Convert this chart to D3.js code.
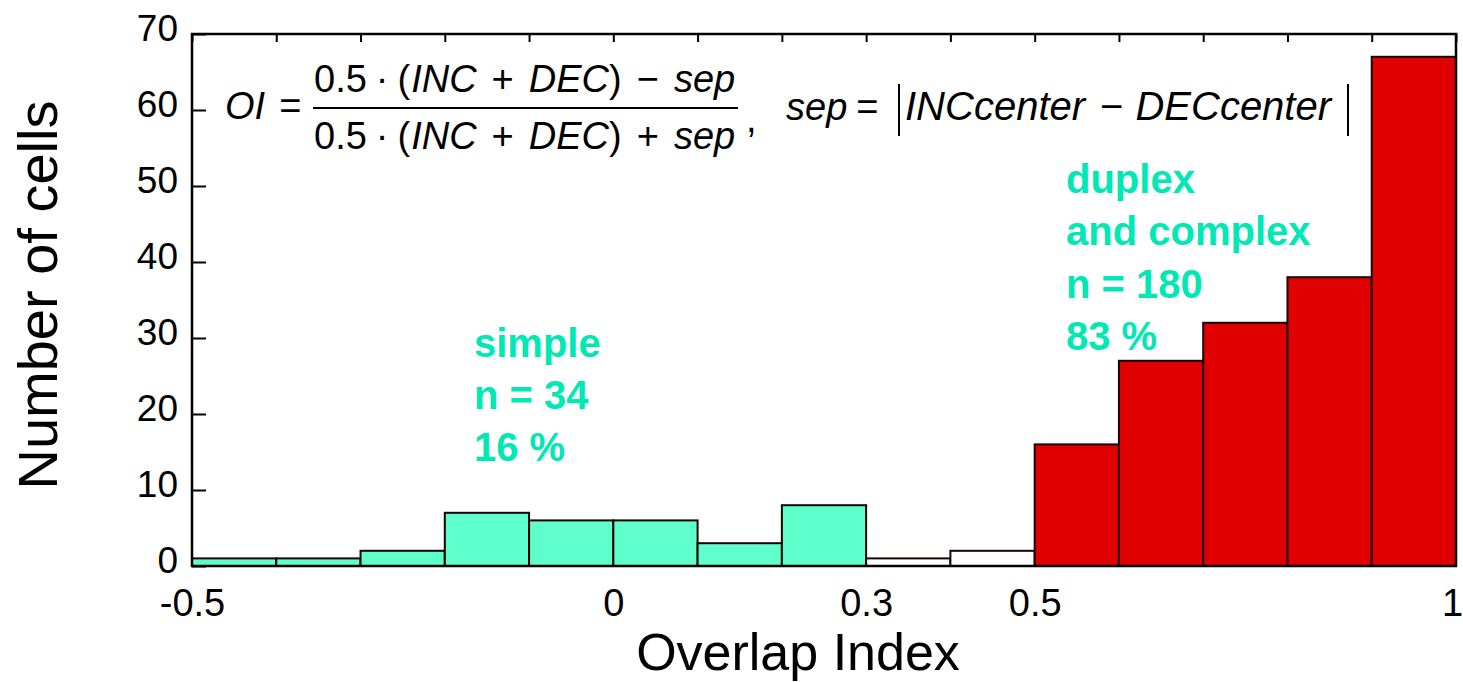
<!DOCTYPE html>
<html>
<head>
<meta charset="utf-8">
<script src="https://cdn.jsdelivr.net/npm/d3@7"></script>
<style>
  body { margin: 0; background: #fff; }
  svg { display: block; }
  text { font-family: "Liberation Sans", Arial, Helvetica, sans-serif; }
</style>
</head>
<body>
<svg id="chart" width="1463" height="682"></svg>
<script>
// Histogram of the overlap index (bin width 0.1)
const binEdges = [-0.5, -0.4, -0.3, -0.2, -0.1, 0, 0.1, 0.2, 0.3, 0.4, 0.5, 0.6, 0.7, 0.8, 0.9, 1.0];
const counts   = [1, 1, 2, 7, 6, 6, 3, 8, 1, 2, 16, 27, 32, 38, 67];
const classes  = ["simple", "simple", "simple", "simple", "simple", "simple", "simple", "simple",
                  "unclassified", "unclassified",
                  "complex", "complex", "complex", "complex", "complex"];
const xTickValues = [-0.5, 0, 0.3, 0.5, 1];
const xTickLabels = ["-0.5", "0", "0.3", "0.5", "1"];
const yTickValues = [0, 10, 20, 30, 40, 50, 60, 70];
const simpleLabel  = ["simple", "n = 34", "16 %"];
const complexLabel = ["duplex", "and complex", "n = 180", "83 %"];

const fillFor = { simple: "#5effca", unclassified: "#ffffff", complex: "#e00000" };
const labelColor = "#00e8b4";

const margin = { left: 192, right: 7, top: 34, bottom: 116 };
const W = 1463, H = 682;
const svg = d3.select("#chart");

const x = d3.scaleLinear().domain([-0.5, 1]).range([margin.left, W - margin.right]);
const y = d3.scaleLinear().domain([0, 70]).range([H - margin.bottom, margin.top]);

const bins = counts.map((c, i) => ({ x0: binEdges[i], x1: binEdges[i + 1], count: c, cls: classes[i] }));

// bars
svg.append("g").selectAll("rect").data(bins).join("rect")
  .attr("x", d => x(d.x0))
  .attr("y", d => y(d.count))
  .attr("width", d => x(d.x1) - x(d.x0))
  .attr("height", d => y(0) - y(d.count))
  .attr("fill", d => fillFor[d.cls])
  .attr("stroke", "#1a0303")
  .attr("stroke-width", 2);

// frame
svg.append("rect")
  .attr("x", x(-0.5)).attr("y", y(70))
  .attr("width", x(1) - x(-0.5)).attr("height", y(0) - y(70))
  .attr("fill", "none").attr("stroke", "#000").attr("stroke-width", 2.5);

// bottom axis: labels only
const xAxis = svg.append("g")
  .attr("transform", `translate(0,${y(0)})`)
  .call(d3.axisBottom(x).tickValues(xTickValues).tickFormat((d, i) => xTickLabels[i]).tickSize(0).tickPadding(23));
xAxis.select(".domain").remove();
xAxis.selectAll("text").attr("font-size", 38).attr("fill", "#000")
  .attr("dx", d => d === 1 ? -4 : 0)
  .style("font-family", "'Liberation Sans', Arial, sans-serif");

// top axis: inward ticks at every bin edge
const topAxis = svg.append("g")
  .attr("transform", `translate(0,${y(70)})`)
  .call(d3.axisTop(x).tickValues(binEdges).tickSize(-8).tickFormat(""));
topAxis.select(".domain").remove();
topAxis.selectAll("line").attr("stroke", "#000").attr("stroke-width", 2);

// left axis: inward ticks
const yAxis = svg.append("g")
  .attr("transform", `translate(${x(-0.5)},0)`)
  .call(d3.axisLeft(y).tickValues(yTickValues).tickSize(-14).tickPadding(14));
yAxis.select(".domain").remove();
yAxis.selectAll("line").attr("stroke", "#000").attr("stroke-width", 2);
yAxis.selectAll("text").attr("font-size", 37).attr("fill", "#000").attr("dy", "0.18em")
  .style("font-family", "'Liberation Sans', Arial, sans-serif");

// axis titles
svg.append("text")
  .attr("x", 798).attr("y", 670)
  .attr("text-anchor", "middle").attr("font-size", 52)
  .text("Overlap Index");

svg.append("text")
  .attr("transform", "translate(57,295) rotate(-90)")
  .attr("text-anchor", "middle").attr("font-size", 56)
  .text("Number of cells");

// class annotations
function block(lines, x0, y0, step) {
  svg.append("g").selectAll("text").data(lines).join("text")
    .attr("x", x0).attr("y", (d, i) => y0 + i * step)
    .attr("font-size", 40).attr("font-weight", "bold").attr("fill", labelColor)
    .text(d => d);
}
block(simpleLabel, 474, 357, 52);
block(complexLabel, 1066, 193, 52.3);

// formula: OI = (0.5·(INC+DEC) − sep) / (0.5·(INC+DEC) + sep),  sep = |INCcenter − DECcenter|
const f = svg.append("g").attr("fill", "#000");
function eq(xp, yp, size, parts) {
  const t = f.append("text").attr("x", xp).attr("y", yp).attr("font-size", size);
  parts.forEach(([s, it, dx]) => t.append("tspan")
    .attr("font-style", it ? "italic" : "normal")
    .attr("dx", dx || 0)
    .text(s));
  return t;
}
eq(225, 119, 38, [["OI", true], ["=", false, 14]]);
const fracParts = op => [
  ["0.5", false], ["\u00b7", false, 9], ["(", false, 9], ["INC", true, 1],
  ["+", false, 15], ["DEC", true, 15], [")", false, 0],
  [op, false, 15], ["sep", true, 15]
];
eq(314, 92, 38, fracParts("\u2212"));
eq(314, 149, 38, fracParts("+"));
f.append("line").attr("x1", 313).attr("x2", 738).attr("y1", 108).attr("y2", 108)
  .attr("stroke", "#000").attr("stroke-width", 2);
eq(746, 132, 38, [[",", false]]);
eq(786, 120, 38, [["sep", true], ["=", false, 9]]);
eq(905, 120, 40, [["INCcenter", true], ["\u2212", false, 15], ["DECcenter", true, 12]]);
f.append("line").attr("x1", 899).attr("x2", 899).attr("y1", 84).attr("y2", 136).attr("stroke", "#000").attr("stroke-width", 2);
f.append("line").attr("x1", 1348).attr("x2", 1348).attr("y1", 84).attr("y2", 136).attr("stroke", "#000").attr("stroke-width", 2);
</script>
</body>
</html>
